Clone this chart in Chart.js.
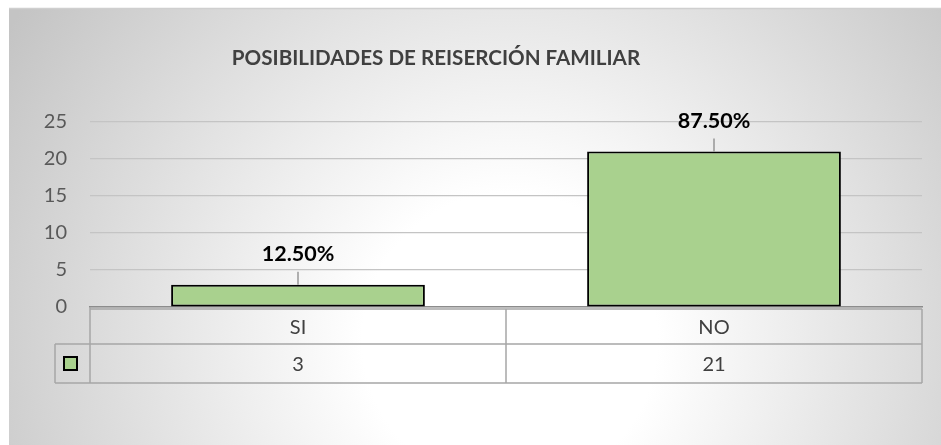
<!DOCTYPE html>
<html>
<head>
<meta charset="utf-8">
<script src="https://cdn.jsdelivr.net/npm/chart.js@4/dist/chart.umd.min.js"></script>
<style>
  html, body { margin: 0; padding: 0; background: #fff; }
  #wrap { width: 941px; height: 445px; position: relative; }
</style>
</head>
<body>
<div id="wrap"><canvas id="reinsercionChart"></canvas></div>
<script>
const chartTitle = 'POSIBILIDADES DE REISERCIÓN FAMILIAR';
const categories = ['SI', 'NO'];
const counts = [3, 21];
const percentLabels = ['12.50%', '87.50%'];
const yMin = 0;
const yMax = 25;
const yStep = 5;

const FONT = 'Lato, "Noto Sans", sans-serif';
const barGreen = '#A9D18E';

// background, title, data labels and the data table under the axis
const excelLook = {
    id: 'excelLook',
    beforeDraw(chart) {
        const ctx = chart.ctx;
        const w = chart.width, h = chart.height;
        ctx.save();
        ctx.fillStyle = '#ffffff';
        ctx.fillRect(0, 0, w, h);
        const g = ctx.createRadialGradient(510, 340, 0, 510, 340, 590);
        g.addColorStop(0, '#ffffff');
        g.addColorStop(0.25, '#ffffff');
        g.addColorStop(1, '#c4c4c4');
        ctx.fillStyle = g;
        ctx.fillRect(9, 8, w - 9, h - 8);
        ctx.strokeStyle = '#cfcfcf';
        ctx.lineWidth = 1.5;
        ctx.beginPath();
        ctx.moveTo(9, 8.5);
        ctx.lineTo(w, 8.5);
        ctx.stroke();
        ctx.restore();
    },
    afterDatasetsDraw(chart) {
        const ctx = chart.ctx;
        const area = chart.chartArea;
        const xs = chart.scales.x;
        const meta = chart.getDatasetMeta(0);

        ctx.save();
        // title
        ctx.fillStyle = '#404040';
        ctx.font = 'bold 20.6px ' + FONT;
        ctx.textAlign = 'center';
        ctx.textBaseline = 'middle';
        ctx.fillText(chartTitle, 436, 58);

        // data labels with leader lines
        meta.data.forEach((bar, i) => {
            ctx.strokeStyle = '#808080';
            ctx.lineWidth = 1.2;
            ctx.beginPath();
            ctx.moveTo(bar.x, bar.y);
            ctx.lineTo(bar.x, bar.y - 13);
            ctx.stroke();
            ctx.fillStyle = '#000000';
            ctx.font = 'bold 21.5px ' + FONT;
            ctx.fillText(percentLabels[i], bar.x, bar.y - 31);
        });

        // data table
        const top = area.bottom + 2;
        const mid = area.bottom + 37;
        const bot = area.bottom + 76;
        const keyLeft = 55;
        const bounds = [area.left];
        for (let i = 0; i < categories.length - 1; i++) {
            bounds.push((xs.getPixelForValue(i) + xs.getPixelForValue(i + 1)) / 2);
        }
        bounds.push(area.right);

        ctx.strokeStyle = '#a6a6a6';
        ctx.lineWidth = 1.5;
        ctx.beginPath();
        ctx.moveTo(area.left, top); ctx.lineTo(area.right, top);
        ctx.moveTo(keyLeft, mid); ctx.lineTo(area.right, mid);
        ctx.moveTo(keyLeft, bot); ctx.lineTo(area.right, bot);
        ctx.moveTo(keyLeft, mid); ctx.lineTo(keyLeft, bot);
        ctx.moveTo(area.left, area.bottom); ctx.lineTo(area.left, bot);
        bounds.slice(1).forEach(b => { ctx.moveTo(b, top); ctx.lineTo(b, bot); });
        ctx.stroke();

        ctx.font = '20px ' + FONT;
        ctx.fillStyle = '#404040';
        categories.forEach((c, i) => {
            const cx = xs.getPixelForValue(i);
            ctx.fillText(c, cx, (top + mid) / 2 + 1);
            ctx.fillText(String(counts[i]), cx, (mid + bot) / 2 + 1);
        });

        // legend key
        const ky = (mid + bot) / 2;
        ctx.fillStyle = barGreen;
        ctx.fillRect(64, ky - 6.5, 13, 13);
        ctx.strokeStyle = '#000000';
        ctx.lineWidth = 2;
        ctx.strokeRect(64, ky - 6.5, 13, 13);
        ctx.restore();
    }
};

const ctx = document.getElementById('reinsercionChart').getContext('2d');
new Chart(ctx, {
    type: 'bar',
    data: {
        labels: categories,
        datasets: [{
            data: counts,
            backgroundColor: barGreen,
            borderColor: '#000000',
            borderWidth: 2,
            borderSkipped: false,
            barPercentage: 0.61,
            categoryPercentage: 1
        }]
    },
    options: {
        responsive: true,
        maintainAspectRatio: false,
        animation: false,
        layout: { padding: { top: 122, right: 19, bottom: 138, left: 0 } },
        plugins: {
            legend: { display: false },
            tooltip: { enabled: false },
            title: { display: false }
        },
        scales: {
            x: {
                ticks: { display: false },
                grid: { display: false },
                border: { display: true, color: '#8c8c8c', width: 1.5 },
                afterFit: scale => { scale.height = 0; }
            },
            y: {
                min: yMin,
                max: yMax,
                ticks: {
                    stepSize: yStep,
                    padding: 23,
                    color: '#595959',
                    font: { family: FONT, size: 20 }
                },
                grid: { color: '#c4c4c4', lineWidth: 1.2, drawTicks: false },
                border: { display: false },
                afterFit: scale => { scale.width = 90; }
            }
        }
    },
    plugins: [excelLook]
});
</script>
</body>
</html>
